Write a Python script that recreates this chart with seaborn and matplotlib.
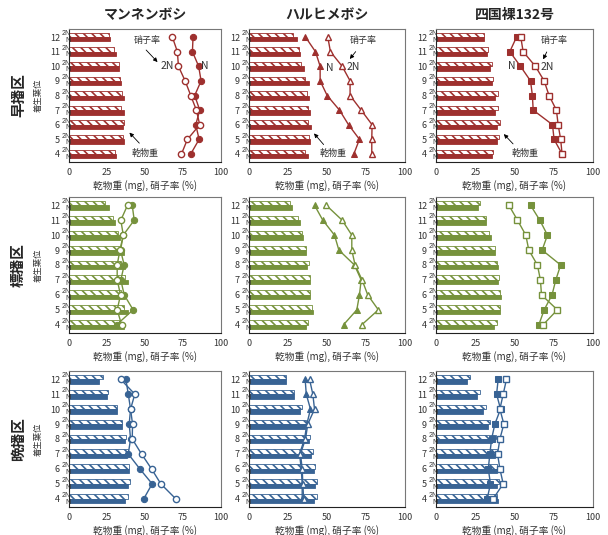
import numpy as np
import matplotlib
matplotlib.use("Agg")
import matplotlib.pyplot as plt
import seaborn as sns

# leaf positions (bottom -> top)
leaf = [4, 5, 6, 7, 8, 9, 10, 11, 12]

# マンネンボシ
dw2n_man_early = [30.2, 35.7, 36.0, 34.4, 35.0, 33.5, 32.8, 29.8, 26.0]
dwn_man_early = [30.9, 36.0, 35.7, 36.0, 36.3, 34.4, 32.6, 30.6, 27.0]
gl2n_man_early = [74.0, 77.9, 86.0, 83.8, 80.1, 76.4, 72.0, 71.3, 68.0]
gln_man_early = [80.1, 85.6, 83.4, 86.0, 82.7, 86.9, 85.3, 81.2, 81.6]

dw2n_man_std = [33.0, 36.1, 33.9, 36.8, 33.9, 33.5, 32.4, 29.1, 24.0]
dwn_man_std = [36.1, 38.5, 36.8, 38.5, 36.8, 36.1, 33.5, 30.2, 26.5]
gl2n_man_std = [34.6, 31.7, 33.9, 31.7, 31.7, 33.5, 35.7, 34.1, 38.5]
gln_man_std = [31.3, 42.2, 36.3, 34.1, 36.3, 33.9, 35.7, 42.9, 41.6]

dw2n_man_late = [38.5, 40.0, 39.6, 38.5, 37.2, 34.6, 31.7, 25.8, 22.5]
dwn_man_late = [36.8, 38.5, 39.6, 37.9, 36.8, 35.0, 31.9, 25.2, 19.9]
gl2n_man_late = [70.2, 60.4, 54.3, 47.7, 41.6, 41.8, 40.5, 43.3, 33.9]
gln_man_late = [49.2, 54.7, 46.6, 39.0, 40.5, 39.6, 40.5, 39.0, 37.4]

# ハルヒメボシ
dw2n_haru_early = [36.2, 38.4, 37.7, 37.7, 37.1, 36.2, 33.5, 31.8, 28.1]
dwn_haru_early = [37.7, 38.8, 39.9, 38.8, 38.4, 38.4, 35.2, 32.8, 30.7]
gl2n_haru_early = [78.7, 78.7, 78.9, 71.9, 64.8, 64.8, 59.7, 52.2, 50.5]
gln_haru_early = [67.2, 70.8, 63.8, 58.0, 50.1, 45.6, 45.6, 42.6, 36.2]

dw2n_haru_std = [37.7, 40.3, 39.4, 39.4, 38.4, 36.7, 34.1, 31.3, 26.4]
dwn_haru_std = [36.7, 40.9, 39.4, 38.8, 37.3, 36.7, 34.5, 32.4, 27.7]
gl2n_haru_std = [72.3, 82.9, 76.1, 72.5, 68.0, 65.9, 65.9, 59.7, 49.5]
gln_haru_std = [60.6, 69.1, 70.8, 71.9, 67.6, 57.6, 54.8, 47.3, 42.0]

dw2n_haru_late = [43.7, 43.7, 42.6, 40.9, 39.2, 36.7, 34.1, 28.6, 23.5]
dwn_haru_late = [41.4, 42.0, 41.4, 39.9, 38.4, 36.2, 32.8, 28.6, 23.5]
gl2n_haru_late = [35.0, 34.5, 34.1, 33.0, 36.2, 37.7, 42.0, 40.9, 38.8]
gln_haru_late = [34.1, 34.1, 33.5, 32.4, 35.6, 37.1, 39.4, 36.7, 36.0]

# 四国裸132号
dw2n_shik_early = [36.4, 40.0, 40.7, 39.6, 39.2, 36.4, 35.8, 33.3, 30.7]
dwn_shik_early = [35.4, 38.6, 38.6, 37.5, 37.3, 35.4, 34.7, 32.6, 30.7]
gl2n_shik_early = [80.3, 79.4, 77.8, 76.7, 72.0, 68.9, 63.3, 55.5, 54.0]
gln_shik_early = [80.3, 75.2, 74.2, 61.9, 61.4, 60.2, 53.8, 47.0, 51.3]

dw2n_shik_std = [38.6, 40.7, 40.7, 40.0, 38.6, 37.5, 33.9, 31.8, 28.0]
dwn_shik_std = [36.9, 40.7, 41.3, 39.6, 39.6, 37.5, 35.0, 31.8, 26.5]
gl2n_shik_std = [68.2, 77.3, 67.2, 66.5, 64.6, 59.1, 57.2, 51.9, 46.4]
gln_shik_std = [65.5, 68.9, 73.9, 76.3, 79.4, 67.6, 71.0, 66.1, 60.2]

dw2n_shik_late = [38.6, 40.0, 39.0, 38.6, 38.1, 34.3, 31.8, 28.0, 21.6]
dwn_shik_late = [39.2, 39.0, 38.6, 37.5, 35.4, 33.3, 30.1, 25.8, 19.5]
gl2n_shik_late = [36.4, 42.8, 40.7, 39.2, 40.7, 43.2, 40.7, 42.8, 44.9]
gln_shik_late = [32.6, 34.7, 33.3, 34.3, 35.4, 37.5, 41.1, 38.6, 39.6]

varieties = ["マンネンボシ", "ハルヒメボシ", "四国裸132号"]
plots = ["早播区", "標播区", "晩播区"]
row_colors = ["#9E302E", "#76923C", "#386394"]
markers = ["o", "^", "s"]

panels = [
    [(dw2n_man_early, dwn_man_early, gl2n_man_early, gln_man_early),
     (dw2n_haru_early, dwn_haru_early, gl2n_haru_early, gln_haru_early),
     (dw2n_shik_early, dwn_shik_early, gl2n_shik_early, gln_shik_early)],
    [(dw2n_man_std, dwn_man_std, gl2n_man_std, gln_man_std),
     (dw2n_haru_std, dwn_haru_std, gl2n_haru_std, gln_haru_std),
     (dw2n_shik_std, dwn_shik_std, gl2n_shik_std, gln_shik_std)],
    [(dw2n_man_late, dwn_man_late, gl2n_man_late, gln_man_late),
     (dw2n_haru_late, dwn_haru_late, gl2n_haru_late, gln_haru_late),
     (dw2n_shik_late, dwn_shik_late, gl2n_shik_late, gln_shik_late)],
]

# annotation layout for top row: 硝子率 text, arrow tail, arrow head, 2N, N, 乾物重 text, arrow tail, arrow head
notes = [
    ((51.6, 11.75), (49.5, 11.25), (59.5, 10.15), (64.8, 10.0), (89.5, 10.0),
     (50.0, 4.05), (47.5, 4.6), (38.5, 5.6)),
    ((73.0, 11.75), (69.5, 11.15), (63.5, 10.35), (66.5, 9.95), (51.5, 9.85),
     (54.0, 4.05), (49.0, 4.5), (40.5, 5.55)),
    ((75.0, 11.75), (71.3, 11.15), (67.5, 10.3), (70.7, 9.95), (48.4, 10.0),
     (56.7, 4.05), (50.3, 4.55), (42.0, 5.5)),
]

sns.set_style("white")
plt.rcParams["font.family"] = ["Noto Sans CJK JP", "DejaVu Sans"]
plt.rcParams["hatch.linewidth"] = 1.2

W, H = 608, 535
fig = plt.figure(figsize=(W / 100, H / 100), dpi=100)

col_left = [69, 249, 436]
col_w = [152, 156, 157]
row_top = [29, 197, 371]
row_h = [133, 136, 136]

pos2n = [v + 0.15 for v in leaf]
posn = [v - 0.15 for v in leaf]

for r in range(3):
    c_main = row_colors[r]
    for c in range(3):
        dw2n, dwn, gl2n, gln = panels[r][c]
        ax = fig.add_axes([col_left[c] / W, 1 - (row_top[r] + row_h[r]) / H,
                           col_w[c] / W, row_h[r] / H])

        n0 = len(ax.patches)
        sns.barplot(x=dw2n, y=pos2n, orient="h", native_scale=True, width=0.3,
                    color=c_main, saturation=1, errorbar=None, ax=ax)
        for p in ax.patches[n0:]:
            p.set_facecolor("white")
            p.set_edgecolor(c_main)
            p.set_hatch("\\\\\\\\")
            p.set_linewidth(0.6)
        n0 = len(ax.patches)
        sns.barplot(x=dwn, y=posn, orient="h", native_scale=True, width=0.3,
                    color=c_main, saturation=1, errorbar=None, ax=ax)
        for p in ax.patches[n0:]:
            p.set_edgecolor(c_main)
            p.set_linewidth(0.6)

        sns.lineplot(x=gln, y=leaf, orient="y", marker=markers[c], color=c_main,
                     markerfacecolor=c_main, markeredgecolor=c_main,
                     markersize=4.5, linewidth=1, errorbar=None, ax=ax)
        sns.lineplot(x=gl2n, y=leaf, orient="y", marker=markers[c], color=c_main,
                     markerfacecolor="white", markeredgecolor=c_main,
                     markeredgewidth=1, markersize=4.5, linewidth=1,
                     errorbar=None, ax=ax)

        ax.set_xlim(0, 100)
        ax.set_ylim(3.45, 12.55)
        ax.set_xticks([0, 25, 50, 75, 100])
        ax.tick_params(axis="x", direction="in", length=2, pad=4.5,
                       labelsize=6.5, color="#888888", labelcolor="#333333")
        ax.set_yticks(leaf, [str(v) for v in leaf])
        ax.tick_params(axis="y", length=0, pad=6.5, labelsize=6.5,
                       labelcolor="#333333")
        for v in leaf:
            ax.annotate("2N\nN", xy=(0, v), xycoords=ax.get_yaxis_transform(),
                        xytext=(1, 0), textcoords="offset points",
                        ha="right", va="center", multialignment="right",
                        linespacing=0.9, fontsize=5, color="#333333",
                        family="Liberation Sans")
        ax.set_xlabel("乾物重 (mg), 硝子率 (%)", fontsize=7, labelpad=2,
                      color="#333333")
        ax.set_ylabel("")
        for side in ["top", "right"]:
            ax.spines[side].set_color("#777777")
            ax.spines[side].set_linewidth(0.8)
        for side in ["left", "bottom"]:
            ax.spines[side].set_color("#222222")
            ax.spines[side].set_linewidth(0.8)

        if r == 0:
            ax.set_title(varieties[c], fontsize=10, fontweight="bold", pad=7)
            t_gl, a0, a1, t2n, tn, t_dw, b0, b1 = notes[c]
            ax.text(*t_gl, "硝子率", fontsize=6.5, ha="center", va="center",
                    color="#333333")
            ax.annotate("", xy=a1, xytext=a0,
                        arrowprops=dict(arrowstyle="-|>", color="black",
                                        lw=0.6, mutation_scale=6))
            ax.text(*t2n, "2N", fontsize=7.5, ha="center", va="center",
                    color="#333333")
            ax.text(*tn, "N", fontsize=7.5, ha="center", va="center",
                    color="#333333")
            ax.text(*t_dw, "乾物重", fontsize=6.5, ha="center", va="center",
                    color="#333333")
            ax.annotate("", xy=b1, xytext=b0,
                        arrowprops=dict(arrowstyle="-|>", color="black",
                                        lw=0.6, mutation_scale=6))

    yc = 1 - (row_top[r] + row_h[r] / 2) / H
    fig.text(18 / W, yc, plots[r], rotation=90, fontsize=10.5,
             fontweight="bold", ha="center", va="center")
    fig.text(38 / W, yc, "着生葉位", rotation=90, fontsize=6,
             ha="center", va="center", color="#333333")

fig.savefig("out.png", dpi=100)
